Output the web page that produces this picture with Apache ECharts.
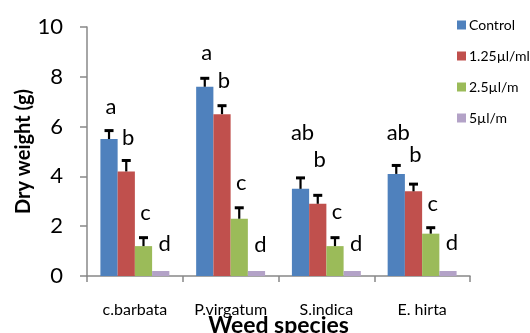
<!DOCTYPE html>
<html><head><meta charset="utf-8">
<script src="https://cdn.jsdelivr.net/npm/echarts@6/dist/echarts.min.js"></script>
<style>html,body{margin:0;padding:0;background:#fff}#c{width:530px;height:333px}</style>
</head><body><div id="c"></div>
<script>
const categories = ['c.barbata', 'P.virgatum', 'S.indica', 'E. hirta'];
const seriesNames = ['Control', '1.25µl/ml', '2.5µl/m', '5µl/m'];
const control = [5.5, 7.6, 3.5, 4.1];
const dose125 = [4.2, 6.5, 2.9, 3.4];
const dose25 = [1.2, 2.3, 1.2, 1.7];
const dose5 = [0.2, 0.2, 0.2, 0.2];
const controlErr = [0.4, 0.4, 0.5, 0.4];
const dose125Err = [0.5, 0.4, 0.4, 0.35];
const dose25Err = [0.4, 0.5, 0.4, 0.3];
const dose5Err = [0, 0, 0, 0];
const controlLetters = ['a', 'a', 'ab', 'ab'];
const dose125Letters = ['b', 'b', 'b', 'b'];
const dose25Letters = ['c', 'c', 'c', 'c'];
const dose5Letters = ['d', 'd', 'd', 'd'];
// letter heights (centre of letter, in y units)
const controlLetterY = [6.8, 8.95, 5.75, 5.75];
const dose125LetterY = [5.55, 7.85, 4.65, 4.85];
const dose25LetterY = [2.55, 3.75, 2.57, 2.9];
const dose5LetterY = [1.3, 1.25, 1.3, 1.33];
const yTicks = [0, 2, 4, 6, 8, 10];

const values = [control, dose125, dose25, dose5];
const errs = [controlErr, dose125Err, dose25Err, dose5Err];
const letters = [controlLetters, dose125Letters, dose25Letters, dose5Letters];
const letterY = [controlLetterY, dose125LetterY, dose25LetterY, dose5LetterY];
const colors = ['#4F81BD', '#C0504D', '#9BBB59', '#B3A2C7'];
const FONT = 'Lato';
const GAP = 0.28;

const series = [];
values.forEach((v, i) => {
  series.push({
    name: seriesNames[i], type: 'bar', data: v, barGap: '0%', barCategoryGap: (GAP*100)+'%',
    itemStyle: { color: colors[i] }, animation: false
  });
});
values.forEach((v, i) => {
  series.push({
    type: 'custom', silent: true, animation: false, z: 10,
    data: v.map((val, k) => [k, val, val + errs[i][k], letterY[i][k]]),
    encode: { x: 0, y: [1, 2, 3] },
    renderItem: function (params, api) {
      const k = api.value(0);
      const band = api.size([1, 0])[0];
      const bw = band * (1 - GAP) / 4;
      const c0 = api.coord([k, api.value(1)]);
      const c1 = api.coord([k, api.value(2)]);
      const c2 = api.coord([k, api.value(3)]);
      const x = c0[0] + (i - 1.5) * bw;
      const children = [];
      if (api.value(2) > api.value(1)) {
        children.push({ type: 'line', shape: { x1: x, y1: c0[1], x2: x, y2: c1[1] + 1 }, style: { stroke: '#000', lineWidth: 2.2 } });
        children.push({ type: 'line', shape: { x1: x - 4.5, y1: c1[1] + 1.5, x2: x + 4.5, y2: c1[1] + 1.5 }, style: { stroke: '#000', lineWidth: 3 } });
      }
      children.push({ type: 'text', style: { text: letters[i][k], x: x + (i === 3 ? 4 : 2), y: c2[1], textAlign: 'center', textVerticalAlign: 'middle', font: '22px ' + FONT, fill: '#000' } });
      return { type: 'group', children: children };
    }
  });
});

const chart = echarts.init(document.getElementById('c'), null, { renderer: 'canvas' });
chart.setOption({
  animation: false,
  textStyle: { fontFamily: FONT },
  grid: { left: 87, right: 60, top: 27, bottom: 57, containLabel: false, outerBoundsMode: 'none' },
  legend: {
    data: seriesNames, orient: 'vertical', left: 452, top: 13, itemWidth: 9, itemHeight: 9,
    itemGap: 17, icon: 'rect', textStyle: { fontSize: 14, color: '#000', fontFamily: FONT, padding: [0,0,0,-2] }
  },
  xAxis: {
    type: 'category', data: categories,
    axisLine: { lineStyle: { color: '#888', width: 1.5 } },
    axisTick: { show: true, length: 6, lineStyle: { color: '#888', width: 1.5 } },
    axisLabel: { fontSize: 16, color: '#000', margin: 26 },
    name: 'Weed species', nameLocation: 'middle', nameGap: 38, nameMoveOverlap: false,
    nameTextStyle: { fontSize: 23, fontWeight: 'bold', color: '#000' }
  },
  yAxis: {
    type: 'value', min: 0, max: 10, interval: 2,
    axisLine: { show: true, lineStyle: { color: '#888', width: 1.5 } },
    axisTick: { show: true, length: 7, lineStyle: { color: '#888', width: 1.5 } },
    splitLine: { show: false },
    axisLabel: { fontSize: 22, color: '#000', margin: 24, formatter: v => yTicks.includes(v) ? String(v) : '' },
    name: 'Dry weight (g)', nameLocation: 'middle', nameGap: 53, nameMoveOverlap: false,
    nameTextStyle: { fontSize: 20, fontWeight: 'bold', color: '#000' }
  },
  series: series
});
</script></body></html>
